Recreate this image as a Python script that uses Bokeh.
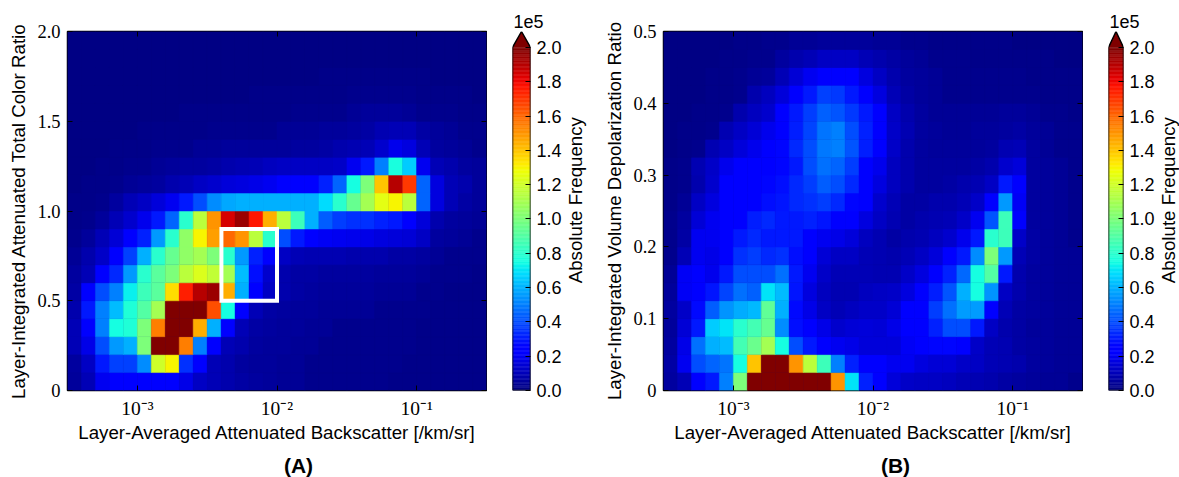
import math
import numpy as np
from bokeh.core.properties import value
from bokeh.embed import file_html
from bokeh.resources import INLINE
from bokeh.layouts import row, column
from bokeh.models import (ColumnDataSource, LinearColorMapper, Range1d, FixedTicker, LogAxis,
                          LinearAxis, Title, LogScale)
from bokeh.plotting import figure

# Counts per cell in units of 1e4; rows run from the bottom of each panel, 30 columns each.
A00 = [.5,1,2,2.3,2.4,2.4,2.4,2.2,1.8,1.2,1,.8,.7,.6,.5,.4,.4,.3,.3,.3,.3,.3,.3,.2,.2,.2,.2,.2,.2,.2]
A01 = [.6,1.2,3,3.8,3.8,5.3,12,13,3.5,2.2,1,.8,.6,.5,.5,.4,.4,.3,.3,.3,.3,.3,.3,.3,.2,.2,.2,.2,.2,.2]
A02 = [1,1.8,4,5.5,6,10,20,20,15.5,5,2.2,1,.8,.6,.5,.5,.4,.4,.3,.3,.3,.3,.3,.3,.3,.2,.2,.2,.2,.2]
A03 = [1,2.5,5,7.5,7.8,10,15.5,20,20,14.5,6,2.2,1,.7,.6,.5,.5,.4,.4,.3,.3,.3,.3,.3,.3,.2,.2,.2,.2,.2]
A04 = [.8,3,5,6.2,7.8,9,11,20,20,20,16.5,7.5,2.2,1,.7,.6,.5,.5,.4,.4,.4,.4,.3,.3,.3,.3,.2,.2,.2,.2]
A05 = [.7,2.2,4,5,7.2,8.5,9.2,13.5,17.5,19,19.5,14.5,6,2.2,1.2,.8,.7,.6,.5,.5,.5,.5,.4,.4,.4,.3,.3,.2,.2,.2]
A06 = [.6,1,2.3,3.3,5.5,8,9.2,10,11.5,12.3,11.7,11,6.2,2.8,1.4,.8,.7,.7,.6,.6,.6,.6,.5,.5,.5,.4,.3,.3,.3,.2]
A07 = [.4,.8,1.3,2.3,3.8,6,8,9.5,10.5,11,10,8,5.5,3.2,2.2,1.2,1,.9,.9,.9,.8,.8,.8,.7,.7,.6,.4,.3,.3,.3]
A08 = [.3,.5,1,1.5,2.3,3.2,5.5,8,10.5,13,14.8,16,15,11.5,8,4,3,2.3,2.1,2,1.9,1.8,1.7,1.6,1.5,1.2,.6,.5,.4,.3]
A09 = [.2,.3,.5,1,1.4,1.9,3,4.5,8,11.5,15,18.5,19.5,17.7,14.5,11.5,8.5,6,4.3,3.7,3.5,3.5,3.2,3,2.2,1.6,.8,.6,.5,.4]
A10 = [.2,.2,.3,.6,1,1.2,1.6,2,3,4,5.3,5.8,6,6,6,6,6,6,6.8,8,9.5,11,12.5,13,11.5,4.5,1.7,1,.7,.5]
A11 = [.1,.2,.2,.3,.4,.5,.6,.8,1,1.2,1.4,1.6,1.7,1.8,2,2.2,2.2,2.2,3.2,4.5,7.5,10,14,19,17,4.5,1.7,1,.8,.5]
A12 = [.1,.1,.2,.2,.3,.3,.4,.5,.6,.6,.7,.8,.9,1,1.1,1.2,1.2,1.2,1.2,1.3,2,3,5,7.6,6.5,2,1,.8,.6,.5]
A13 = [.1,.1,.1,.2,.2,.2,.3,.3,.3,.4,.4,.5,.5,.5,.5,.5,.6,.6,.7,.8,.9,1,1.4,1.9,1.7,1,.6,.5,.4,.3]
A14 = [.1,.1,.1,.1,.1,.2,.2,.2,.2,.2,.3,.3,.3,.3,.3,.4,.4,.4,.5,.5,.6,.7,.9,1,1,.7,.5,.4,.3,.3]
A15 = [.1,.1,.1,.1,.1,.1,.1,.1,.2,.2,.2,.2,.2,.2,.2,.2,.3,.3,.3,.3,.4,.5,.5,.5,.4,.3,.3,.3,.2,.2]
A16 = [.1,.1,.1,.1,.1,.1,.1,.1,.1,.1,.1,.1,.1,.2,.2,.2,.2,.2,.2,.2,.3,.3,.3,.3,.3,.2,.2,.2,.2,.1]
A17 = [.1,.1,.1,.1,.1,.1,.1,.1,.1,.1,.1,.1,.1,.1,.1,.1,.1,.1,.2,.2,.2,.2,.2,.2,.2,.2,.1,.1,.1,.1]
A18 = [.1,.1,.1,.1,.1,.1,.1,.1,.1,.1,.1,.1,.1,.1,.1,.1,.1,.1,.1,.1,.1,.1,.1,.1,.1,.1,.1,.1,.1,.1]
A19 = [.1,.1,.1,.1,.1,.1,.1,.1,.1,.1,.1,.1,.1,.1,.1,.1,.1,.1,.1,.1,.1,.1,.1,.1,.1,.1,.1,.1,.1,.1]

B00 = [.6,1,2.2,3,5,10,20,20,20,20,20,20,15,7,3.2,2.2,1.6,1.3,1.2,1.2,1.1,1,.9,.8,.7,.6,.5,.4,.4,.3]
B01 = [.7,2,4,4.5,4.8,7.5,14,20,20,15,11.5,8.5,5,3.2,2.3,2.2,2,2,1.7,1.5,1.5,1.3,1.2,1,.9,.8,.6,.5,.4,.4]
B02 = [.6,1.8,4.7,6,6.2,8.6,9.6,11,7.5,4,3,2.3,2,1.8,1.6,1.6,1.6,2.1,2.2,2.6,2.6,2.4,1.3,1,.9,.7,.6,.5,.4,.4]
B03 = [.5,1.5,3,6.5,7,8,8.6,9.5,5.3,2.8,2.2,1.8,1.4,1.5,1.6,1.5,1.8,2.2,2.3,3.2,4,4,3,1.2,.8,.7,.5,.5,.4,.4]
B04 = [.6,1.3,2.7,4.3,5.4,5.9,6.1,9.3,6,2.7,1.8,1.2,1,1.1,1.3,1.3,1.5,2.2,2.3,3.7,4.7,5.6,5.6,2.5,1,.7,.6,.5,.4,.4]
B05 = [.5,2.1,2.4,2.9,3.9,4.7,4.4,7,6.2,2.9,1.7,1.1,.9,.9,1.1,1.2,1.3,1.7,2.3,3.1,4.2,6,7.5,5.4,1.2,.8,.6,.5,.4,.4]
B06 = [.4,2.1,2.2,1.9,3,4,4,4,4.7,3,2,1.3,1,1,1,.9,.9,1.3,1.7,2.4,3.2,4.6,7.5,9,3,.8,.6,.5,.4,.4]
B07 = [.3,1,2,1.8,2.2,3.5,3.7,3.3,3.5,2.8,2.2,1.5,1.2,1.2,1,.9,.8,1,1.2,1.6,2.3,3,5.3,10,5.5,1,.7,.5,.4,.4]
B08 = [.3,.7,2,2,2.2,3,3.3,3,3,3,2.2,2,1.8,1.6,1.1,.9,.7,.8,.9,1.1,1.4,1.9,3,8,8.5,1.3,.7,.5,.4,.3]
B09 = [.3,.6,1.5,2,2.2,2.4,3.1,3.3,3,3,3.2,2.9,2.4,2.2,1.7,1.2,.9,.7,.8,.9,1,1.3,2,4.2,8.5,2.3,.6,.5,.4,.3]
B10 = [.2,.4,1.2,1.7,2.2,2.4,2.5,2.8,2.9,3.3,3.5,3.7,3.3,2.6,2.2,1.4,1,.7,.7,.8,.8,1,1.3,2.4,5.5,2.1,.6,.5,.4,.3]
B11 = [.2,.3,.8,1.4,2.2,2.4,2.4,2.6,2.8,3.3,3.7,4.3,4,3.3,2.3,1.7,1.1,.8,.6,.6,.7,.8,.9,1.2,3,2.2,.6,.5,.4,.3]
B12 = [.2,.3,.9,1.3,1.9,2.2,2.3,2.3,2.6,3,4,4.7,4.5,3.7,2.5,1.9,1.1,.8,.6,.6,.6,.6,.7,.8,1.4,1.6,.6,.5,.4,.3]
B13 = [.1,.2,.3,.9,1.2,1.6,1.9,2.2,2.6,3.3,4,4.9,5,4.2,3.1,2.2,1.3,.8,.6,.5,.5,.5,.5,.6,.9,1,.6,.4,.3,.3]
B14 = [.1,.2,.2,.3,.9,1.2,1.5,1.9,2.3,3.1,3.9,4.8,5,4,3.2,2.3,1.3,.9,.6,.5,.4,.4,.5,.5,.6,.7,.5,.4,.3,.3]
B15 = [.1,.1,.2,.2,.3,.8,1.1,1.4,2.3,3,3.7,4.4,4.2,3.6,3,2.2,1.2,.8,.6,.4,.4,.4,.4,.4,.5,.5,.4,.3,.3,.2]
B16 = [.1,.1,.1,.2,.2,.3,.8,1.1,1.6,2.3,3,3.8,3.6,3,2.2,1.7,1,.7,.5,.4,.3,.3,.3,.3,.3,.3,.3,.2,.2,.2]
B17 = [.1,.1,.1,.2,.2,.3,.4,.5,1,1.5,2,2.3,2.3,2.3,1.7,1.2,.8,.6,.5,.4,.3,.3,.3,.3,.3,.3,.2,.2,.2,.2]
B18 = [.1,.1,.1,.1,.2,.2,.3,.3,.6,.8,1,1.2,1.2,1.2,1,.8,.7,.5,.4,.3,.3,.3,.2,.2,.2,.2,.2,.2,.1,.1]
B19 = [.1,.1,.1,.1,.1,.2,.2,.3,.3,.4,.4,.5,.5,.5,.5,.4,.4,.3,.3,.2,.2,.2,.2,.2,.2,.1,.1,.1,.1,.1]

counts_a = [A00,A01,A02,A03,A04,A05,A06,A07,A08,A09,A10,A11,A12,A13,A14,A15,A16,A17,A18,A19]
counts_b = [B00,B01,B02,B03,B04,B05,B06,B07,B08,B09,B10,B11,B12,B13,B14,B15,B16,B17,B18,B19]

x_edges = 10 ** np.linspace(-3.5, -0.5, 31)
x_ticks = [1e-3, 1e-2, 1e-1]
x_tick_labels = {1e-3: "10⁻³", 1e-2: "10⁻²", 1e-1: "10⁻¹"}
y_ticks_a = [0, 0.5, 1.0, 1.5, 2.0]
y_tick_labels_a = {0: "0", 0.5: "0.5", 1.0: "1.0", 1.5: "1.5", 2.0: "2.0"}
y_ticks_b = [0, 0.1, 0.2, 0.3, 0.4, 0.5]
y_tick_labels_b = {0: "0", 0.1: "0.1", 0.2: "0.2", 0.3: "0.3", 0.4: "0.4", 0.5: "0.5"}
cb_ticks = [0.0, 0.2, 0.4, 0.6, 0.8, 1.0, 1.2, 1.4, 1.6, 1.8, 2.0]
cb_tick_labels = {0.0: "0.0", 0.2: "0.2", 0.4: "0.4", 0.6: "0.6", 0.8: "0.8", 1.0: "1.0",
                  1.2: "1.2", 1.4: "1.4", 1.6: "1.6", 1.8: "1.8", 2.0: "2.0"}
box_x = [0.004, 0.01]
box_y = [0.5, 0.9]
panel_tags = ["(A)", "(B)"]

xlabel = "Layer-Averaged Attenuated Backscatter [/km/sr]"
ylabel_a = "Layer-Integrated Attenuated Total Color Ratio"
ylabel_b = "Layer-Integrated Volume Depolarization Ratio"
cb_label = "Absolute Frequency"

SANS = "Liberation Sans"
SERIF = "Liberation Serif"

pos = np.linspace(0, 1, 256)
jr = np.interp(pos, [0, .35, .66, .89, 1], [0, 0, 1, 1, .5])
jg = np.interp(pos, [0, .125, .375, .64, .91, 1], [0, 0, 1, 1, 0, 0])
jb = np.interp(pos, [0, .11, .34, .65, 1], [.5, 1, 1, 0, 0])
JET = ["#%02x%02x%02x" % (round(r*255), round(g*255), round(b*255)) for r, g, b in zip(jr, jg, jb)]
mapper = LinearColorMapper(palette=JET, low=0, high=20)

TOP_H = 447


def style_hidden(ax):
    ax.major_label_text_font_size = "1px"
    ax.major_label_text_color = None
    ax.major_label_standoff = 0


def style_common(ax, ticks):
    ax.ticker = FixedTicker(ticks=ticks, minor_ticks=[])
    ax.major_tick_in = 5
    ax.major_tick_out = 0
    ax.major_tick_line_color = "black"
    ax.axis_line_color = None
    ax.minor_tick_line_color = None


def style_labelled(ax, text, overrides, standoff, title_standoff, font=SERIF, size="18.5px"):
    ax.major_label_overrides = overrides
    ax.major_label_text_font = font
    ax.major_label_text_font_size = size
    ax.major_label_text_color = "black"
    ax.major_label_standoff = standoff
    if text:
        ax.axis_label = text
        ax.axis_label_text_font = SANS
        ax.axis_label_text_font_size = "18.7px"
        ax.axis_label_text_font_style = "normal"
        ax.axis_label_text_color = "black"
        ax.axis_label_standoff = title_standoff


def panel(counts, ymax, yticks, ylabels, ytitle, width, left):
    counts = np.array(counts, dtype=float)
    y_edges = np.linspace(0, ymax, 21)
    xx, yy = np.meshgrid(np.arange(30), np.arange(20))
    src = ColumnDataSource(dict(
        left=x_edges[xx.ravel()], right=x_edges[xx.ravel() + 1],
        bottom=y_edges[yy.ravel()], top=y_edges[yy.ravel() + 1], v=counts.ravel()))
    p = figure(width=width, height=TOP_H, x_axis_type=None, y_axis_type=None,
               x_range=Range1d(x_edges[0], x_edges[-1]), y_range=Range1d(0, ymax),
               output_backend="svg", toolbar_location=None,
               min_border_left=left, min_border_right=1, min_border_top=31, min_border_bottom=57)
    p.x_scale = LogScale()
    p.quad(left="left", right="right", bottom="bottom", top="top", source=src,
           fill_color={"field": "v", "transform": mapper},
           line_color={"field": "v", "transform": mapper}, line_width=0.5)
    p.grid.visible = False
    p.outline_line_color = "black"
    p.outline_line_width = 1.5
    p.background_fill_color = "#00007f"

    b = LogAxis()
    style_common(b, x_ticks)
    style_labelled(b, xlabel, x_tick_labels, 7, 0, size="19.5px")
    p.add_layout(b, "below")
    t = LogAxis()
    style_common(t, x_ticks)
    style_hidden(t)
    p.add_layout(t, "above")
    l = LinearAxis()
    style_common(l, yticks)
    style_labelled(l, ytitle, ylabels, 7, 5)
    p.add_layout(l, "left")
    r = LinearAxis()
    style_common(r, yticks)
    style_hidden(r)
    p.add_layout(r, "right")
    return p


def colorbar(width, right):
    levels = np.linspace(0, 20, 257)
    cb_top = 2.0 * 360 / 344
    c = figure(width=width, height=TOP_H, x_range=Range1d(0, 1), y_range=Range1d(0, cb_top),
               x_axis_type=None, y_axis_type=None, output_backend="svg", toolbar_location=None,
               min_border_left=25, min_border_right=right, min_border_top=30, min_border_bottom=57)
    src = ColumnDataSource(dict(bottom=levels[:-1] / 10, top=levels[1:] / 10, v=(levels[:-1] + levels[1:]) / 2))
    c.quad(left=0, right=1, bottom="bottom", top="top", source=src,
           fill_color={"field": "v", "transform": mapper},
           line_color={"field": "v", "transform": mapper}, line_width=0.5)
    c.patch([0, .5, 1], [2.0, cb_top, 2.0], fill_color="#7f0000", line_color=None)
    c.line([0, 0, .5, 1, 1, 0], [0, 2.0, cb_top, 2.0, 0, 0], line_color="black", line_width=1.5)
    c.grid.visible = False
    c.outline_line_color = None
    ax = LinearAxis()
    style_common(ax, cb_ticks)
    style_labelled(ax, None, cb_tick_labels, 6, 0, font=SANS, size="18px")
    c.add_layout(ax, "right")
    c.add_layout(Title(text="1e5", align="left", offset=1, text_font=SANS, text_font_size="18px",
                       text_font_style="normal", text_color="black", standoff=8), "above")
    return c


def cb_title(width, x):
    """Narrow strip to the right of a colour bar, holding its upward-reading title."""
    s = figure(width=width, height=TOP_H, x_range=Range1d(0, width), y_range=Range1d(TOP_H, 0),
               x_axis_type=None, y_axis_type=None, output_backend="svg", toolbar_location=None,
               min_border=0, outline_line_color=None)
    s.grid.visible = False
    s.text(x=[x], y=[210], text=[cb_label], angle=math.pi / 2, text_font=value(SANS),
           text_font_size="18.7px", text_color="black", text_align="center", text_baseline="middle")
    return s


pa = panel(counts_a, 2.0, y_ticks_a, y_tick_labels_a, ylabel_a, 487, 67)
pb = panel(counts_b, 0.5, y_ticks_b, y_tick_labels_b, ylabel_b, 493, 73)
pa.quad(left=box_x[0], right=box_x[1], bottom=box_y[0], top=box_y[1],
        fill_color=None, line_color="white", line_width=4, line_join="miter")

# Strip under the panels that carries the panel letters, in page pixels.
tags = figure(width=1179, height=477 - TOP_H, x_range=Range1d(0, 1179), y_range=Range1d(477, TOP_H),
              x_axis_type=None, y_axis_type=None, output_backend="svg", toolbar_location=None,
              min_border=0, outline_line_color=None)
tags.grid.visible = False
tags.text(x=[298, 895], y=[465, 465], text=panel_tags, text_font=value(SANS), text_font_size="21px",
          text_font_style="bold", text_color="black", text_align="center", text_baseline="middle")

top = row(pa, colorbar(78, 35), cb_title(25, 10), pb, colorbar(74, 31), cb_title(22, 11), spacing=0)
layout = column(top, tags, spacing=0)
open("out.html", "w").write(file_html(layout, INLINE))
